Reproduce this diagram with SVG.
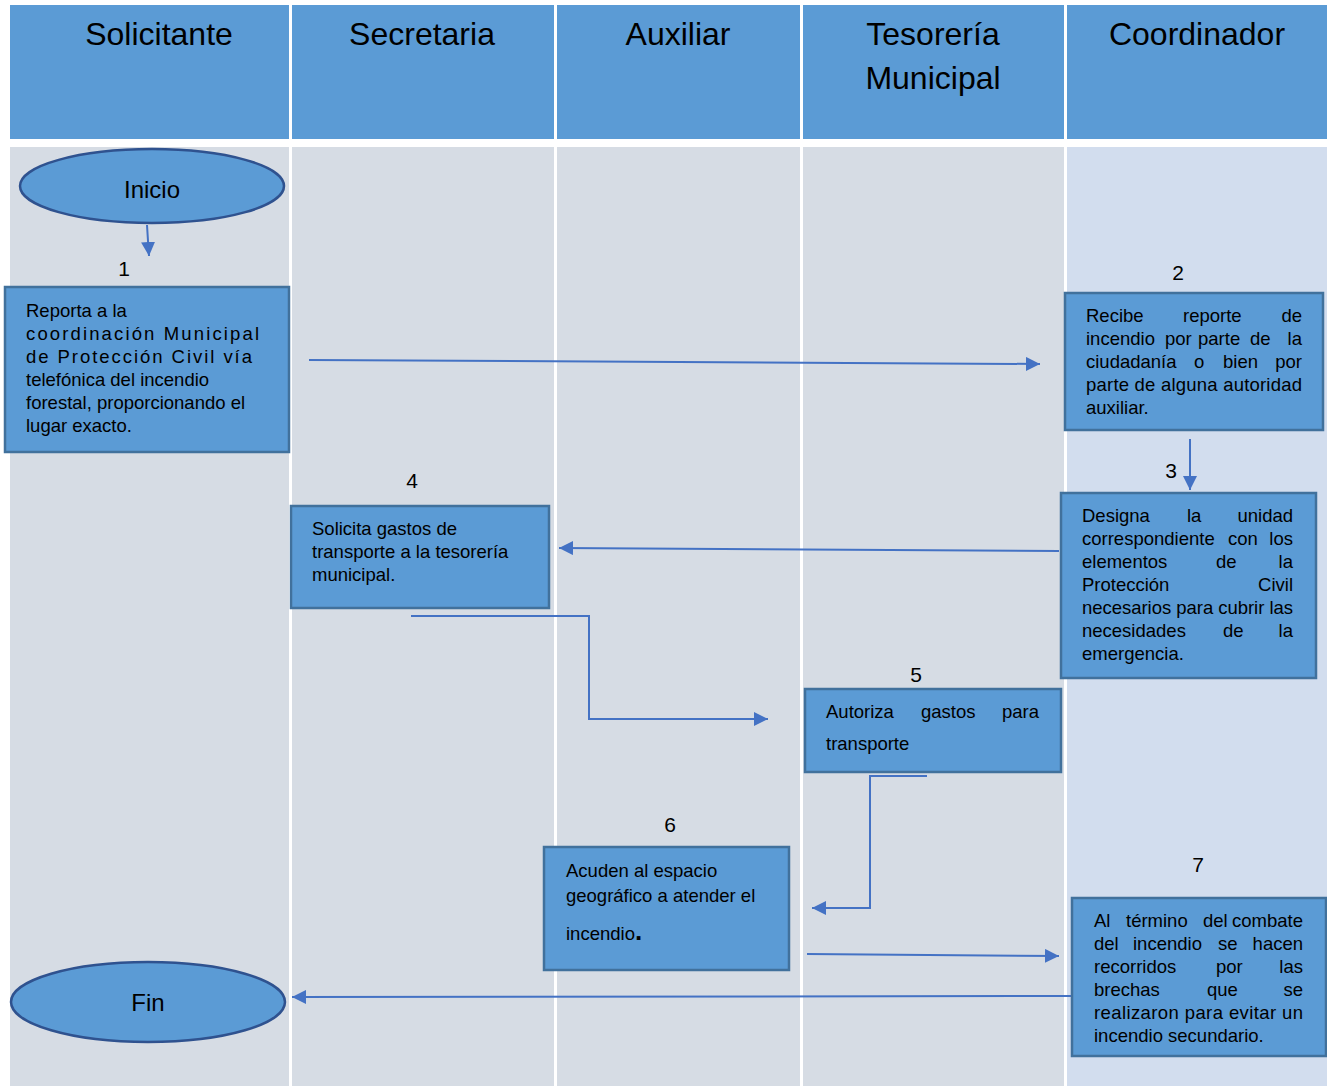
<svg xmlns="http://www.w3.org/2000/svg" width="1327" height="1086" viewBox="0 0 1327 1086">
<defs>
<style>
.hdr{fill:#5b9bd5}
.lane{fill:#d6dce4}
.lane5{fill:#d2ddee}
.ht{font-family:"Liberation Sans",Arial,sans-serif;font-size:32px;fill:#000;text-anchor:middle}
.box{fill:#5b9bd5;stroke:#41719c;stroke-width:2.5}
.ell{fill:#5b9bd5;stroke:#2f528f;stroke-width:2.5}
.t{font-family:"Liberation Sans",Arial,sans-serif;font-size:18.5px;fill:#000}
.e{text-anchor:end}
.num{font-family:"Liberation Sans",Arial,sans-serif;font-size:21px;fill:#000;text-anchor:middle}
.et{font-family:"Liberation Sans",Arial,sans-serif;font-size:24px;fill:#000;text-anchor:middle}
.c{fill:none;stroke:#4472c4;stroke-width:2}
</style>
<marker id="ah" viewBox="0 0 14 14" refX="14" refY="7" markerWidth="14" markerHeight="14" markerUnits="userSpaceOnUse" orient="auto">
<path d="M0,0 L14,7 L0,14 Z" fill="#4472c4"/>
</marker>
</defs>
<rect x="0" y="0" width="1327" height="1086" fill="#ffffff"/>
<g id="lanes">
<rect class="hdr" x="10" y="5" width="279" height="134"/>
<rect class="hdr" x="292" y="5" width="262" height="134"/>
<rect class="hdr" x="557" y="5" width="243" height="134"/>
<rect class="hdr" x="803" y="5" width="261" height="134"/>
<rect class="hdr" x="1067" y="5" width="260" height="134"/>
<rect class="lane" x="10" y="147" width="279" height="939"/>
<rect class="lane" x="292" y="147" width="262" height="939"/>
<rect class="lane" x="557" y="147" width="243" height="939"/>
<rect class="lane" x="803" y="147" width="261" height="939"/>
<rect class="lane5" x="1067" y="147" width="260" height="939"/>
<text class="ht" x="159" y="45">Solicitante</text>
<text class="ht" x="422" y="45">Secretaria</text>
<text class="ht" x="678" y="45">Auxiliar</text>
<text class="ht" x="933" y="45">Tesorería</text>
<text class="ht" x="933" y="89">Municipal</text>
<text class="ht" x="1197" y="45">Coordinador</text>
</g>
<g id="connectors">
<path class="c" d="M147,225 L149,256" marker-end="url(#ah)"/>
<path class="c" d="M309,360 L1040,364" marker-end="url(#ah)"/>
<path class="c" d="M1190,439 L1190,490" marker-end="url(#ah)"/>
<path class="c" d="M1059,551 L559,548" marker-end="url(#ah)"/>
<path class="c" d="M411,616 L589,616 L589,719 L768,719" marker-end="url(#ah)"/>
<path class="c" d="M927,776 L870,776 L870,908 L812,908" marker-end="url(#ah)"/>
<path class="c" d="M807,954 L1059,956" marker-end="url(#ah)"/>
<path class="c" d="M1074,996 L292,997" marker-end="url(#ah)"/>
</g>
<g id="inicio">
<ellipse class="ell" cx="152" cy="186" rx="132" ry="37"/>
<text class="et" x="152" y="198">Inicio</text>
</g>
<g id="step1">
<text class="num" x="124" y="276">1</text>
<rect class="box" x="5" y="287" width="284" height="165"/>
<text class="t" x="26" y="317">Reporta a la</text>
<text class="t" x="26" y="340" textLength="233" lengthAdjust="spacing">coordinación Municipal</text>
<text class="t" x="26" y="363" textLength="226" lengthAdjust="spacing">de Protección Civil vía</text>
<text class="t" x="26" y="386">telefónica del incendio</text>
<text class="t" x="26" y="409">forestal, proporcionando el</text>
<text class="t" x="26" y="432">lugar exacto.</text>
</g>
<g id="step2">
<text class="num" x="1178" y="280">2</text>
<rect class="box" x="1065" y="293" width="258" height="137"/>
<text class="t" x="1086" y="322">Recibe</text>
<text class="t" x="1183" y="322">reporte</text>
<text class="t e" x="1302" y="322">de</text>
<text class="t" x="1086" y="345">incendio</text>
<text class="t" x="1165" y="345">por</text>
<text class="t" x="1198" y="345">parte</text>
<text class="t" x="1250" y="345">de</text>
<text class="t e" x="1302" y="345">la</text>
<text class="t" x="1086" y="368">ciudadanía</text>
<text class="t" x="1194" y="368">o</text>
<text class="t" x="1223" y="368">bien</text>
<text class="t e" x="1302" y="368">por</text>
<text class="t" x="1086" y="391" textLength="216" lengthAdjust="spacing">parte de alguna autoridad</text>
<text class="t" x="1086" y="414">auxiliar.</text>
</g>
<g id="step3">
<text class="num" x="1171" y="478">3</text>
<rect class="box" x="1061" y="493" width="255" height="185"/>
<text class="t" x="1082" y="522">Designa</text>
<text class="t" x="1187" y="522">la</text>
<text class="t e" x="1293" y="522">unidad</text>
<text class="t" x="1082" y="545">correspondiente</text>
<text class="t" x="1228" y="545">con</text>
<text class="t e" x="1293" y="545">los</text>
<text class="t" x="1082" y="568">elementos</text>
<text class="t" x="1216" y="568">de</text>
<text class="t e" x="1293" y="568">la</text>
<text class="t" x="1082" y="591">Protección</text>
<text class="t e" x="1293" y="591">Civil</text>
<text class="t" x="1082" y="614" textLength="211" lengthAdjust="spacing">necesarios para cubrir las</text>
<text class="t" x="1082" y="637">necesidades</text>
<text class="t" x="1223" y="637">de</text>
<text class="t e" x="1293" y="637">la</text>
<text class="t" x="1082" y="660">emergencia.</text>
</g>
<g id="step4">
<text class="num" x="412" y="488">4</text>
<rect class="box" x="291" y="506" width="258" height="102"/>
<text class="t" x="312" y="535">Solicita gastos de</text>
<text class="t" x="312" y="558">transporte a la tesorería</text>
<text class="t" x="312" y="581">municipal.</text>
</g>
<g id="step5">
<text class="num" x="916" y="682">5</text>
<rect class="box" x="805" y="689" width="256" height="83"/>
<text class="t" x="826" y="718">Autoriza</text>
<text class="t" x="921" y="718">gastos</text>
<text class="t e" x="1039" y="718">para</text>
<text class="t" x="826" y="750">transporte</text>
</g>
<g id="step6">
<text class="num" x="670" y="832">6</text>
<rect class="box" x="544" y="847" width="245" height="123"/>
<text class="t" x="566" y="877">Acuden al espacio</text>
<text class="t" x="566" y="902">geográfico a atender el</text>
<text class="t" x="566" y="940">incendio<tspan font-size="26px" font-weight="bold">.</tspan></text>
</g>
<g id="step7">
<text class="num" x="1198" y="872">7</text>
<rect class="box" x="1072" y="898" width="254" height="158"/>
<text class="t" x="1094" y="927">Al</text>
<text class="t" x="1126" y="927">término</text>
<text class="t" x="1203" y="927">del</text>
<text class="t e" x="1303" y="927">combate</text>
<text class="t" x="1094" y="950">del</text>
<text class="t" x="1133" y="950">incendio</text>
<text class="t" x="1218" y="950">se</text>
<text class="t e" x="1303" y="950">hacen</text>
<text class="t" x="1094" y="973">recorridos</text>
<text class="t" x="1216" y="973">por</text>
<text class="t e" x="1303" y="973">las</text>
<text class="t" x="1094" y="996">brechas</text>
<text class="t" x="1207" y="996">que</text>
<text class="t e" x="1303" y="996">se</text>
<text class="t" x="1094" y="1019" textLength="209" lengthAdjust="spacing">realizaron para evitar un</text>
<text class="t" x="1094" y="1042">incendio secundario.</text>
</g>
<g id="fin">
<ellipse class="ell" cx="148" cy="1002" rx="137" ry="40"/>
<text class="et" x="148" y="1011">Fin</text>
</g>
</svg>
